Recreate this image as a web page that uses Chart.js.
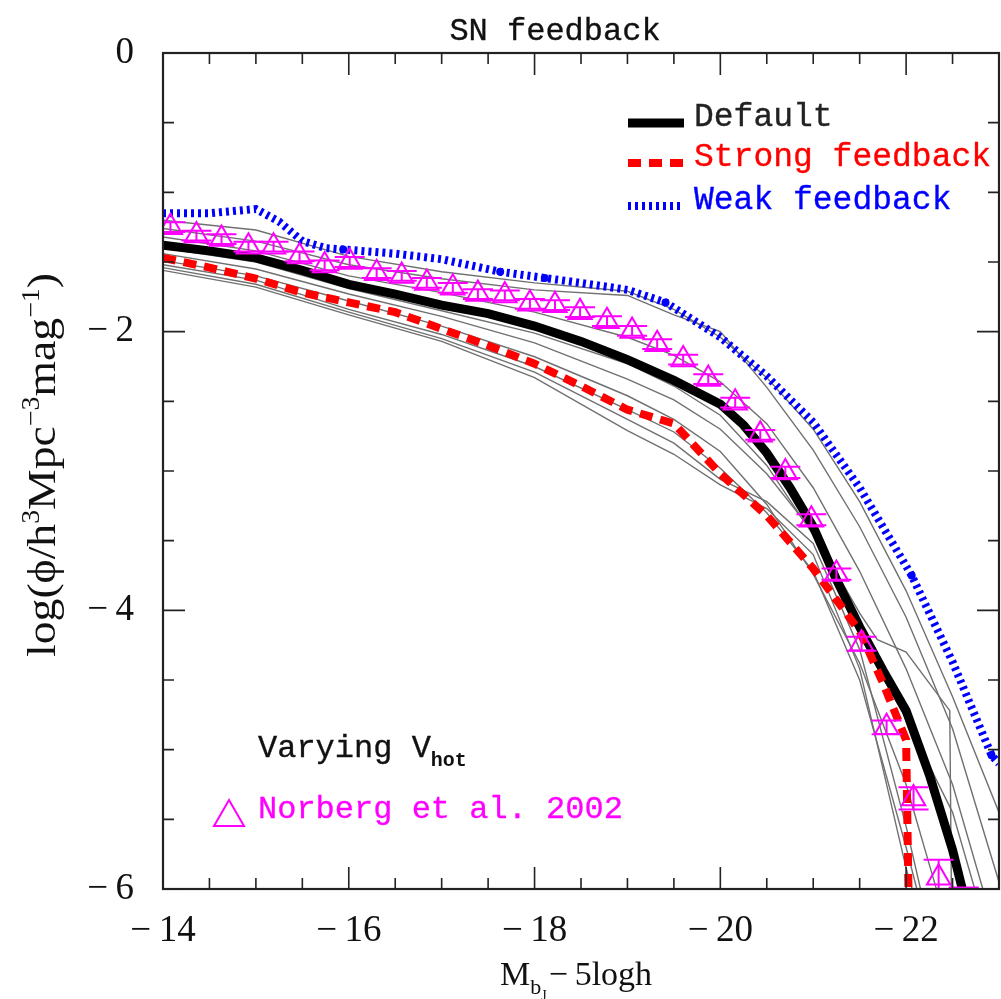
<!DOCTYPE html>
<html>
<head>
<meta charset="utf-8">
<script src="https://cdn.jsdelivr.net/npm/chart.js@4.4.0/dist/chart.umd.min.js"></script>
<style>
html, body { margin: 0; padding: 0; background: #fff; overflow: hidden; }
canvas { display: block; }
</style>
</head>
<body>
<canvas id="lf" width="1001" height="999"></canvas>
<script>
// model luminosity functions
const defaultMag = [-14, -14.5, -15, -15.5, -16, -16.5, -17, -17.5, -18, -18.5, -19, -19.5, -20, -20.25, -20.5, -20.75, -21, -21.25, -21.5, -21.75, -22, -22.25, -22.5, -22.68];
const defaultPhi = [-1.38, -1.42, -1.47, -1.56, -1.66, -1.73, -1.81, -1.87, -1.96, -2.07, -2.20, -2.35, -2.52, -2.67, -2.87, -3.12, -3.40, -3.78, -4.12, -4.43, -4.72, -5.18, -5.72, -6.2];

const strongMag = [-14, -14.5, -15, -15.5, -16, -16.5, -17, -17.5, -18, -18.5, -19, -19.5, -19.75, -20, -20.5, -21, -21.5, -21.75, -22, -22.03];
const strongPhi = [-1.47, -1.54, -1.62, -1.72, -1.79, -1.86, -1.98, -2.10, -2.23, -2.39, -2.56, -2.66, -2.84, -3.02, -3.32, -3.70, -4.15, -4.52, -4.93, -6.2];

const weakMag = [-14, -14.5, -15, -15.25, -15.5, -15.75, -15.94, -16.5, -17, -17.63, -18.11, -18.5, -19, -19.41, -20, -20.5, -21, -21.5, -22.06, -22.5, -22.92, -23];
const weakPhi = [-1.15, -1.15, -1.12, -1.21, -1.35, -1.40, -1.41, -1.44, -1.48, -1.57, -1.615, -1.65, -1.70, -1.79, -2.04, -2.32, -2.65, -3.12, -3.75, -4.37, -5.04, -5.1];
const weakDotMag = [-15.94, -17.63, -18.11, -19.41, -22.06, -22.92];
const weakDotPhi = [-1.41, -1.57, -1.615, -1.79, -3.75, -5.04];

// thin grey curves: varying Vhot
const greyMag = [-14, -15, -16, -17, -18, -19, -19.5, -20, -20.5, -21, -21.5, -22, -22.5, -23];
const grey1 = [-1.20, -1.27, -1.46, -1.57, -1.65, -1.71, -1.84, -2.04, -2.33, -2.70, -3.22, -3.86, -4.62, -5.45];
const grey2 = [-1.26, -1.35, -1.52, -1.62, -1.70, -1.74, -1.88, -2.00, -2.40, -2.85, -3.40, -4.05, -4.85, -5.95];
const grey3 = [-1.32, -1.42, -1.60, -1.72, -1.86, -2.04, -2.17, -2.36, -2.66, -3.12, -3.72, -4.42, -5.25, -6.4];
const grey4 = [-1.40, -1.50, -1.69, -1.85, -2.01, -2.23, -2.39, -2.60, -2.96, -3.46, -4.18, -4.78, -5.45, -6.6];
const grey6 = [-1.49, -1.60, -1.78, -1.96, -2.18, -2.46, -2.63, -2.86, -3.24, -3.74, -4.38, -5.25, -6.4];
const grey7 = [-1.52, -1.63, -1.84, -2.02, -2.25, -2.56, -2.72, -2.98, -3.30, -3.72, -4.50, -5.70, -7.0];
const grey8 = [-1.56, -1.68, -1.88, -2.07, -2.33, -2.71, -2.88, -3.10, -3.27, -3.60, -4.42, -5.85, -7.0];
const grey9 = [-1.54, -1.66, -1.86, -2.05, -2.29, -2.63, -2.80, -3.06, -3.22, -3.52, -4.28, -5.55, -7.0];
const grey5Mag = [-14, -15, -16, -17, -18, -19, -19.5, -20, -20.5, -21, -21.5, -21.69, -22, -22.47, -22.49];
const grey5 = [-1.44, -1.55, -1.73, -1.89, -2.08, -2.34, -2.49, -2.70, -3.02, -3.44, -4.02, -4.21, -4.30, -4.72, -6.2];

// Norberg et al. 2002 data
const norbMag = [-14.08, -14.36, -14.63, -14.92, -15.19, -15.47, -15.74, -16.01, -16.30, -16.57, -16.84, -17.12, -17.39, -17.68, -17.95, -18.22, -18.49, -18.78, -19.05, -19.32, -19.60, -19.87, -20.16, -20.43, -20.70, -20.98, -21.25, -21.52, -21.79, -22.08, -22.35, -22.62];
const norbPhi = [-1.25, -1.31, -1.335, -1.39, -1.39, -1.46, -1.525, -1.50, -1.58, -1.60, -1.65, -1.685, -1.73, -1.74, -1.80, -1.81, -1.86, -1.925, -1.995, -2.09, -2.20, -2.34, -2.51, -2.74, -3.01, -3.35, -3.74, -4.24, -4.84, -5.35, -5.92, -6.22];
const norbErr = [0.035, 0.035, 0.035, 0.035, 0.035, 0.035, 0.035, 0.035, 0.035, 0.035, 0.035, 0.035, 0.035, 0.035, 0.035, 0.035, 0.035, 0.035, 0.035, 0.035, 0.035, 0.035, 0.035, 0.035, 0.04, 0.04, 0.04, 0.05, 0.05, 0.08, 0.13, 0.23];

const xMajor = [-14, -16, -18, -20, -22];
const yMajor = [0, -2, -4, -6];

const pts = (xs, ys) => ys.map((y, i) => ({ x: xs[i], y }));
const minus = v => (v < 0 ? '\u2212\u2009' + Math.abs(v) : String(v));

const greyLine = (xs, ys) => ({
  data: pts(xs, ys), borderColor: '#707070', borderWidth: 1.4,
  pointRadius: 0, showLine: true, order: 5, clip: 0
});

// text with a faint outline, to thicken the thin mono face a little
function heavyText(ctx, s, x, y, w) {
  ctx.fillText(s, x, y);
  ctx.lineWidth = w;
  ctx.strokeStyle = ctx.fillStyle;
  ctx.strokeText(s, x, y);
}

const frame = {
  id: 'frame',
  afterDatasetsDraw(chart) {
    const { ctx, chartArea: a, scales: { x, y } } = chart;
    ctx.save();
    // error bars for the Norberg points
    ctx.beginPath();
    ctx.rect(a.left, a.top, a.right - a.left, a.bottom - a.top);
    ctx.clip();
    ctx.strokeStyle = '#ff00ff';
    ctx.lineWidth = 2;
    norbMag.forEach((m, i) => {
      const px = x.getPixelForValue(m);
      const hi = y.getPixelForValue(norbPhi[i] + norbErr[i]);
      const lo = y.getPixelForValue(norbPhi[i] - norbErr[i]);
      ctx.beginPath();
      ctx.moveTo(px, hi); ctx.lineTo(px, lo);
      ctx.moveTo(px - 15, hi); ctx.lineTo(px + 15, hi);
      ctx.moveTo(px - 15, lo); ctx.lineTo(px + 15, lo);
      ctx.stroke();
    });
    ctx.restore();

    ctx.save();
    ctx.strokeStyle = '#222';
    ctx.lineWidth = 2.2;
    ctx.strokeRect(a.left, a.top, a.right - a.left, a.bottom - a.top);
    ctx.lineWidth = 1.6;
    ctx.beginPath();
    x.ticks.forEach(t => {
      const px = x.getPixelForValue(t.value);
      const len = xMajor.includes(t.value) ? 22 : 11;
      ctx.moveTo(px, a.bottom); ctx.lineTo(px, a.bottom - len);
      ctx.moveTo(px, a.top); ctx.lineTo(px, a.top + len);
    });
    y.ticks.forEach(t => {
      const py = y.getPixelForValue(t.value);
      const len = yMajor.includes(t.value) ? 22 : 11;
      ctx.moveTo(a.left, py); ctx.lineTo(a.left + len, py);
      ctx.moveTo(a.right, py); ctx.lineTo(a.right - len, py);
    });
    ctx.stroke();
    ctx.restore();
  },
  afterDraw(chart) {
    const { ctx } = chart;
    ctx.save();
    ctx.textBaseline = 'alphabetic';

    // title
    ctx.fillStyle = '#111';
    ctx.font = '32px "Liberation Mono"';
    ctx.textAlign = 'center';
    heavyText(ctx, 'SN feedback', 555, 40, 0.35);

    // legend
    ctx.textAlign = 'left';
    const rows = [
      { label: 'Default', color: '#000', dash: [], w: 9, y: 123 },
      { label: 'Strong feedback', color: '#ff0000', dash: [13, 8], w: 8, y: 163 },
      { label: 'Weak feedback', color: '#0000ff', dash: [3, 4], w: 8, y: 206 }
    ];
    rows.forEach(r => {
      ctx.strokeStyle = r.color;
      ctx.lineWidth = r.w;
      ctx.setLineDash(r.dash);
      ctx.beginPath();
      ctx.moveTo(628, r.y); ctx.lineTo(684, r.y);
      ctx.stroke();
      ctx.setLineDash([]);
      ctx.fillStyle = r.color === '#000' ? '#222' : r.color;
      ctx.font = '33px "Liberation Mono"';
      heavyText(ctx, r.label, 694, r.y + 3, 0.35);
    });

    // Varying Vhot
    ctx.fillStyle = '#111';
    ctx.font = '32px "Liberation Mono"';
    heavyText(ctx, 'Varying V', 258, 757, 0.35);
    const vw = ctx.measureText('Varying V').width;
    ctx.font = 'bold 20px "Liberation Mono"';
    ctx.fillText('hot', 258 + vw, 766);

    // Norberg label
    ctx.fillStyle = '#ff00ff';
    ctx.font = '32px "Liberation Mono"';
    heavyText(ctx, 'Norberg et al. 2002', 258, 818, 0.3);
    ctx.strokeStyle = '#ff00ff';
    ctx.lineWidth = 2;
    ctx.beginPath();
    ctx.moveTo(229, 800); ctx.lineTo(244, 826); ctx.lineTo(214, 826); ctx.closePath();
    ctx.stroke();

    // x-axis title
    ctx.fillStyle = '#111';
    ctx.font = '34px "Liberation Serif"';
    let xx = 500;
    const base = 985;
    ctx.fillText('M', xx, base); xx += ctx.measureText('M').width;
    ctx.font = '22px "Liberation Serif"';
    ctx.fillText('b', xx, base + 9); xx += ctx.measureText('b').width;
    ctx.font = '14px "Liberation Serif"';
    ctx.fillText('J', xx, base + 15); xx += ctx.measureText('J').width + 2;
    ctx.font = '34px "Liberation Serif"';
    ctx.fillText('\u2212\u20095logh', xx, base);

    // y-axis title, rotated, fitted to its length in the figure
    ctx.translate(42, 465);
    ctx.rotate(-Math.PI / 2);
    const segs = [
      ['log(\u03d5/h', 0], ['3', 1], ['Mpc', 0], ['\u22123', 1], ['mag', 0], ['\u22121', 1], [')', 0]
    ];
    const big = '41px "Liberation Serif"', small = '25px "Liberation Serif"';
    let total = 0;
    segs.forEach(s => { ctx.font = s[1] ? small : big; total += ctx.measureText(s[0]).width; });
    ctx.scale(384 / total, 1);
    let sx = -total / 2;
    segs.forEach(s => {
      ctx.font = s[1] ? small : big;
      ctx.fillText(s[0], sx, s[1] ? -3 : 13);
      sx += ctx.measureText(s[0]).width;
    });
    ctx.restore();
  }
};

new Chart(document.getElementById('lf'), {
  type: 'scatter',
  data: {
    datasets: [
      greyLine(greyMag, grey1), greyLine(greyMag, grey2), greyLine(greyMag, grey3),
      greyLine(greyMag, grey4), greyLine(grey5Mag, grey5), greyLine(greyMag, grey6),
      greyLine(greyMag, grey7), greyLine(greyMag, grey8), greyLine(greyMag, grey9),
      {
        label: 'Default', data: pts(defaultMag, defaultPhi), showLine: true,
        borderColor: '#000', borderWidth: 9, pointRadius: 0, order: 4, clip: 0
      },
      {
        label: 'Strong feedback', data: pts(strongMag, strongPhi), showLine: true,
        borderColor: '#ff0000', borderWidth: 8, borderDash: [13, 8], pointRadius: 0, order: 3, clip: 0
      },
      {
        label: 'Weak feedback', data: pts(weakMag, weakPhi), showLine: true,
        borderColor: '#0000ff', borderWidth: 8, borderDash: [3, 4], pointRadius: 0, order: 2, clip: 0
      },
      {
        label: 'weak points', data: pts(weakDotMag, weakDotPhi), showLine: false,
        pointRadius: 4, backgroundColor: '#0000ff', borderWidth: 0, order: 1, clip: 0
      },
      {
        label: 'Norberg et al. 2002', data: pts(norbMag, norbPhi), showLine: false,
        pointStyle: 'triangle', pointRadius: 13.5, borderColor: '#ff00ff', borderWidth: 2,
        backgroundColor: 'rgba(0,0,0,0)', order: 0, clip: 0
      }
    ]
  },
  options: {
    responsive: false,
    animation: false,
    // no auto padding: the big triangle markers would otherwise push the right edge in
    layout: { autoPadding: false, padding: { top: 53, right: 2, left: 0, bottom: 0 } },
    plugins: { legend: { display: false }, tooltip: { enabled: false } },
    scales: {
      x: {
        type: 'linear', min: -23, max: -14, reverse: true,
        grid: { display: false }, border: { display: false },
        afterFit: s => { s.height = 110; s.paddingLeft = 0; s.paddingRight = 0; },
        ticks: {
          stepSize: 0.5, autoSkip: false, maxRotation: 0, padding: 12,
          color: '#111', font: { family: 'Liberation Serif', size: 37 },
          callback: v => (xMajor.includes(v) ? minus(v) : '')
        }
      },
      y: {
        type: 'linear', min: -6, max: 0,
        grid: { display: false }, border: { display: false },
        afterFit: s => { s.width = 163; s.paddingTop = 0; s.paddingBottom = 0; },
        ticks: {
          stepSize: 0.5, autoSkip: false, padding: 21,
          color: '#111', font: { family: 'Liberation Serif', size: 37 },
          callback: v => (yMajor.includes(v) ? minus(v) : '')
        }
      }
    }
  },
  plugins: [frame]
});
</script>
</body>
</html>
